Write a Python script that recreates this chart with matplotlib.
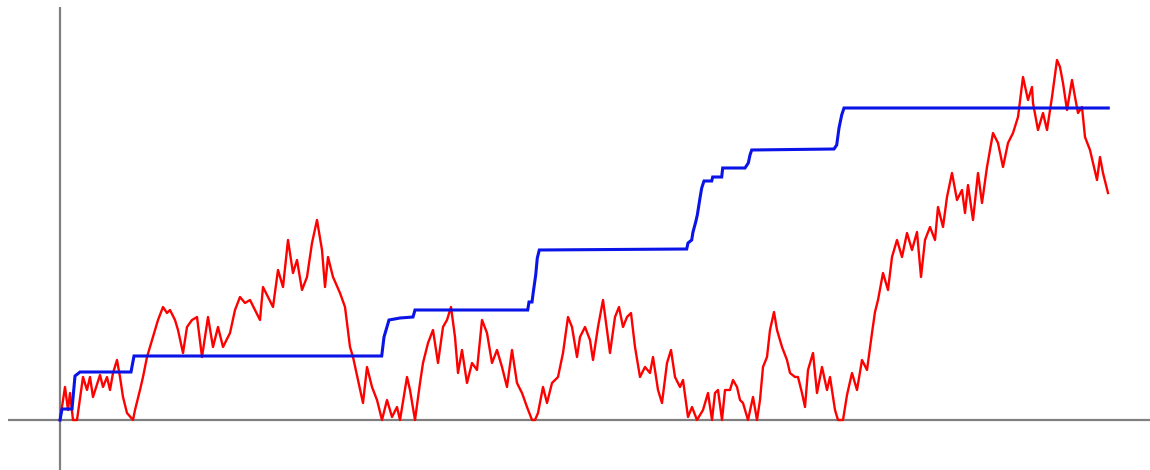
import matplotlib
matplotlib.use("Agg")
import matplotlib.pyplot as plt

# Reflected Brownian path |B_t| (red) and its local time at zero L_t (blue).
# Time and level are in drawing units (time from 0 to ~1048, level from 0 up).

path_t = [
    0, 5, 8, 10, 13, 17, 23, 27, 30, 33,
    40, 43, 47, 50, 53, 57, 60, 63, 67, 73,
    75, 80, 83, 87, 90, 95, 98, 103, 107, 110,
    115, 118, 123, 127, 132, 137, 142, 148, 153, 158,
    163, 170, 175, 180, 185, 190, 195, 200, 203, 208,
    213, 218, 223, 228, 233, 237, 242, 247, 252, 257,
    262, 265, 268, 273, 280, 285, 290, 293, 298, 303,
    307, 312, 317, 322, 327, 332, 337, 340, 347, 350,
    355, 360, 363, 368, 373, 378, 383, 387, 391, 395,
    398, 402, 407, 412, 417, 422, 427, 432, 437, 442,
    447, 452, 457, 462, 467, 472, 475, 478, 483, 487,
    492, 498, 503, 508, 512, 517, 520, 525, 530, 533,
    538, 543, 547, 550, 555, 559, 563, 567, 571, 575,
    580, 585, 590, 593, 598, 602, 607, 611, 615, 620,
    623, 628, 632, 637, 643, 648, 652, 655, 658, 662,
    665, 670, 673, 677, 680, 683, 688, 693, 697, 700,
    703, 707, 710, 714, 717, 722, 727, 730, 735, 738,
    742, 745, 748, 753, 757, 762, 767, 770, 775, 778,
    783, 787, 792, 797, 802, 807, 812, 815, 818, 823,
    828, 832, 837, 842, 847, 852, 857, 861, 865, 870,
    875, 878, 883, 887, 892, 897, 902, 905, 908, 913,
    918, 922, 927, 933, 938, 943, 948, 953, 958, 963,
    968, 972, 973, 978, 983, 987, 992, 997, 1000, 1003,
    1007, 1012, 1015, 1018, 1022, 1025, 1030, 1037, 1040, 1043,
    1048,
]

path_level = [
    0, 33, 10, 27, 0, 0, 43, 30, 43, 23,
    45, 33, 43, 30, 47, 60, 43, 23, 7, 0,
    10, 30, 43, 63, 73, 90, 100, 113, 107, 110,
    100, 90, 67, 93, 100, 103, 63, 103, 73, 93,
    73, 87, 110, 123, 117, 120, 110, 100, 133, 123,
    113, 150, 133, 180, 147, 160, 130, 143, 177, 200,
    170, 133, 163, 143, 127, 113, 73, 63, 40, 17,
    53, 33, 20, 0, 20, 3, 13, 0, 43, 30,
    0, 37, 57, 77, 90, 57, 93, 100, 113, 83,
    47, 70, 37, 57, 50, 100, 87, 57, 70, 53,
    33, 70, 37, 27, 13, 0, 0, 7, 33, 17,
    37, 43, 67, 103, 93, 63, 83, 93, 80, 60,
    93, 120, 90, 67, 103, 113, 93, 103, 107, 73,
    43, 53, 47, 63, 30, 17, 57, 70, 43, 33,
    40, 3, 13, 0, 10, 27, 0, 27, 30, 0,
    30, 30, 40, 33, 20, 17, 0, 23, 0, 20,
    53, 63, 90, 108, 90, 73, 60, 47, 43, 43,
    27, 13, 50, 67, 27, 53, 30, 43, 10, 0,
    0, 25, 47, 30, 60, 50, 87, 108, 120, 147,
    130, 163, 180, 163, 187, 170, 188, 143, 180, 193,
    180, 213, 193, 223, 247, 220, 230, 207, 235, 200,
    247, 217, 253, 287, 277, 253, 277, 287, 303, 343,
    320, 333, 317, 290, 307, 290, 323, 360, 353, 337,
    310, 340, 323, 307, 313, 283, 270, 240, 263, 247,
    227,
]

# Local time: flat except where the path touches zero.
local_t = [0, 2, 12, 15, 20, 71, 74, 321.7, 324, 329, 340, 353, 355, 467.7, 469,
           472, 473.3, 475.7, 477.3, 479.3, 626.7, 628, 631.7, 633, 635.7, 637.3,
           640, 641.7, 644, 651.7, 652.7, 661.7, 662.7, 685, 688.3, 690, 691.7, 774,
           776.7, 779, 781.7, 784, 1048.3]

local_level = [0, 11, 11, 44, 48, 48, 64, 64, 83, 100, 102, 103, 110, 110, 118,
               118, 128, 145, 162, 170, 171, 177, 180, 188, 198, 205,
               222, 232, 239, 239, 243, 243, 252, 252, 257, 265, 270, 271,
               275, 292, 305, 312, 312]

fig = plt.figure(figsize=(11.5, 4.7), dpi=100)
ax = fig.add_axes([0, 0, 1, 1])
ax.set_xlim(-60, 1090)
ax.set_ylim(-50, 420)
ax.axis("off")

# Coordinate axes through the origin
ax.plot([0, 0], [-50, 413], color="#808080", lw=1.6, solid_capstyle="butt", zorder=1)
ax.plot([-52, 1090], [0, 0], color="#808080", lw=1.6, solid_capstyle="butt", zorder=1)

ax.plot(path_t, path_level, color="#ff0000", lw=1.7, zorder=2)
ax.plot(local_t, local_level, color="#0a14e6", lw=2.2, zorder=3,
        solid_joinstyle="miter")

fig.savefig("out.png", dpi=100, facecolor="white")
